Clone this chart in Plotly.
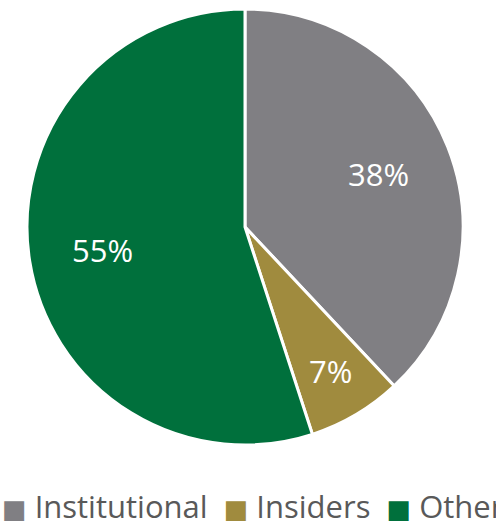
import math
import plotly.graph_objects as go

labels = ["Institutional", "Insiders", "Other"]
values = [38, 7, 55]
colors = ["#807f83", "#a08b3e", "#00703c"]

W, H = 496, 526
CX, CY, R = 245, 227, 218          # pie centre / radius in pixels
label_r = [0.66, 0.77, 0.66]       # label distance from centre (fraction of radius)

fig = go.Figure(go.Pie(
    labels=labels, values=values, sort=False, direction="clockwise", rotation=0,
    marker=dict(colors=colors, line=dict(color="white", width=3)),
    textinfo="none",
    domain=dict(x=[(CX - R) / W, (CX + R) / W], y=[1 - (CY + R) / H, 1 - (CY - R) / H]),
    hoverinfo="label+percent", showlegend=False,
))

total = sum(values)
cum = 0
annotations = []
for v, f in zip(values, label_r):
    mid = (cum + v / 2) / total * 2 * math.pi
    cum += v
    px = CX + f * R * math.sin(mid)
    py = CY - f * R * math.cos(mid)
    annotations.append(dict(
        x=px / W, y=1 - py / H, xref="paper", yref="paper",
        text=f"{round(v / total * 100)}%", showarrow=False,
        xanchor="center", yanchor="middle",
        font=dict(family="Open Sans", size=31, color="white"),
    ))

# legend line (drawn as text so it runs past the right edge, as in the reference)
sep = "&nbsp;" * 2
legend_parts = [
    f"<span style='color:{c}; font-family:DejaVu Sans; font-size:26px'>■</span>&nbsp;{lab}"
    for lab, c in zip(labels, colors)
]
annotations.append(dict(
    x=0, y=-0.006, xref="paper", yref="paper", xanchor="left", yanchor="bottom",
    text=sep.join(legend_parts), showarrow=False, align="left",
    font=dict(family="Open Sans", size=31, color="#595959"),
))

fig.update_layout(
    width=W, height=H, margin=dict(l=0, r=0, t=0, b=0),
    paper_bgcolor="white", plot_bgcolor="white",
    font=dict(family="Open Sans", color="#595959"),
    annotations=annotations,
)
fig.write_html("out.html")
